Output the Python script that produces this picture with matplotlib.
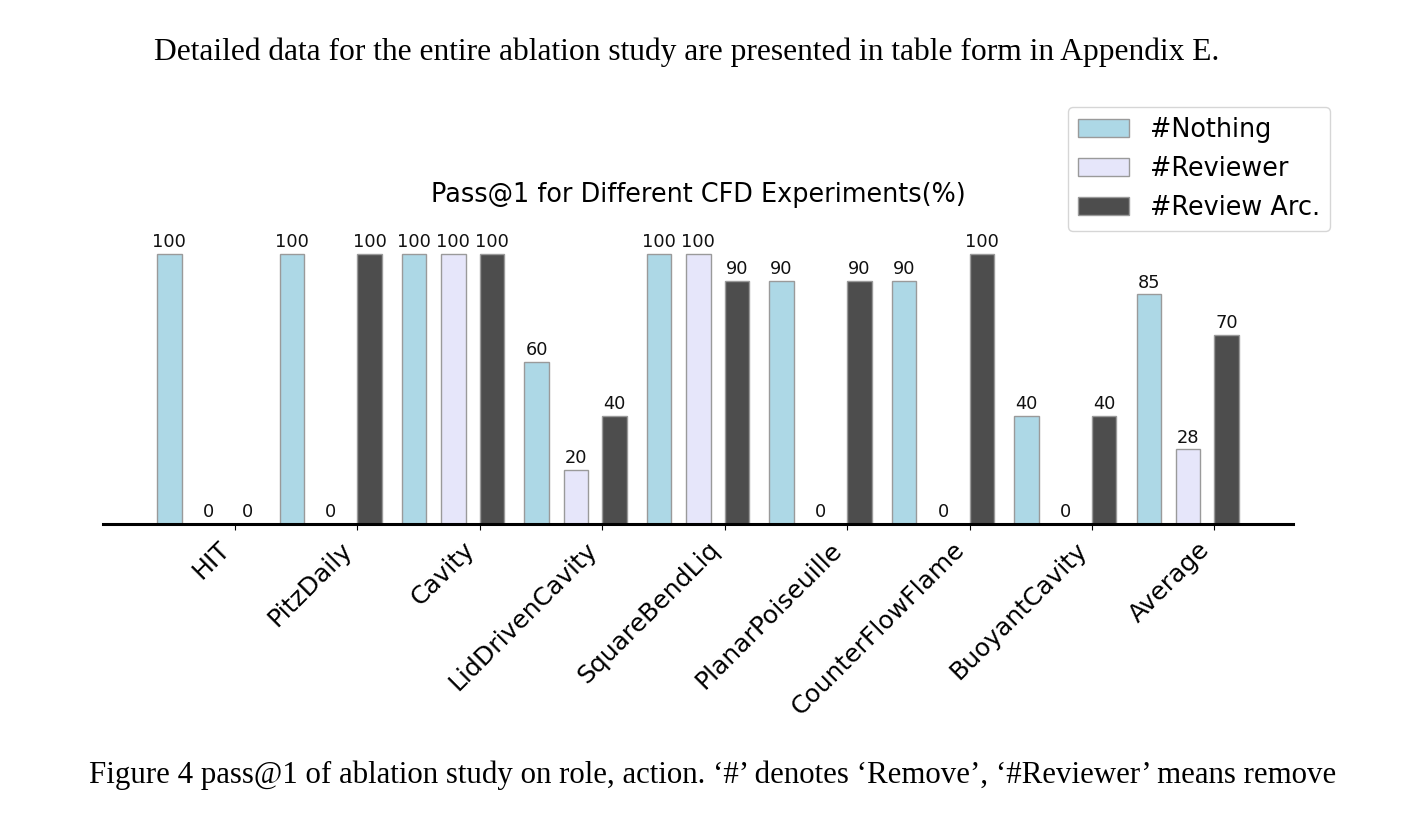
import matplotlib
matplotlib.use("Agg")
import matplotlib.pyplot as plt
import numpy as np

categories = ["HIT", "PitzDaily", "Cavity", "LidDrivenCavity", "SquareBendLiq",
              "PlanarPoiseuille", "CounterFlowFlame", "BuoyantCavity", "Average"]
nothing = [100, 100, 100, 60, 100, 90, 90, 40, 85]
reviewer = [0, 0, 100, 20, 100, 0, 0, 0, 27.5]
review_arc = [0, 100, 100, 40, 90, 90, 100, 40, 70]
series_names = ["#Nothing", "#Reviewer", "#Review Arc."]
title = "Pass@1 for Different CFD Experiments(%)"
top_text = "Detailed data for the entire ablation study are presented in table form in Appendix E."
caption = ("Figure 4 pass@1 of ablation study on role, action. \u2018#\u2019 denotes \u2018Remove\u2019, "
           "\u2018#Reviewer\u2019 means remove")

colors = ["#ADD8E6", "#E6E6FA", "#4D4D4D"]
offsets = [-0.535, -0.215, 0.1]
width = 0.2

W, H = 1426, 826
fig = plt.figure(figsize=(W / 100, H / 100), dpi=100)
ax = fig.add_axes([103 / W, 1 - 523.5 / H, (1293 - 103) / W, (523.5 - 240.5) / H])

x = np.arange(len(categories))
for vals, off, col, name in zip([nothing, reviewer, review_arc], offsets, colors, series_names):
    bars = ax.bar(x + off, vals, width, color=col, edgecolor="#9a9a9a", linewidth=1.0, label=name)
    for b, v in zip(bars, vals):
        ax.annotate(f"{v:.0f}", (b.get_x() + b.get_width() / 2, b.get_height()),
                    xytext=(0, 2), textcoords="offset points", ha="center", va="bottom",
                    fontsize=12.8, color="#111111")

ax.set_ylim(0, 105)
ax.set_xticks(x)
ax.set_xticklabels(categories, rotation=45, ha="right", fontsize=18.0)
ax.tick_params(axis="x", length=4.5, width=0.8, pad=5.5)
ax.set_yticks([])
for s in ["top", "right", "left"]:
    ax.spines[s].set_visible(False)
ax.spines["bottom"].set_linewidth(2.2)
ax.set_title(title, fontsize=18.4, pad=28)

fig.legend(loc="upper right", bbox_to_anchor=(1330 / W, 1 - 107 / H),
           bbox_transform=fig.transFigure, borderaxespad=0, fontsize=18.4)

fig.text(686.5 / W, 1 - 52 / H, top_text, family="Liberation Serif", fontsize=22.7,
         ha="center", va="center")
fig.text(712.5 / W, 1 - 775 / H, caption, family="Liberation Serif", fontsize=22.2,
         ha="center", va="center")

fig.savefig("out.png", dpi=100)
